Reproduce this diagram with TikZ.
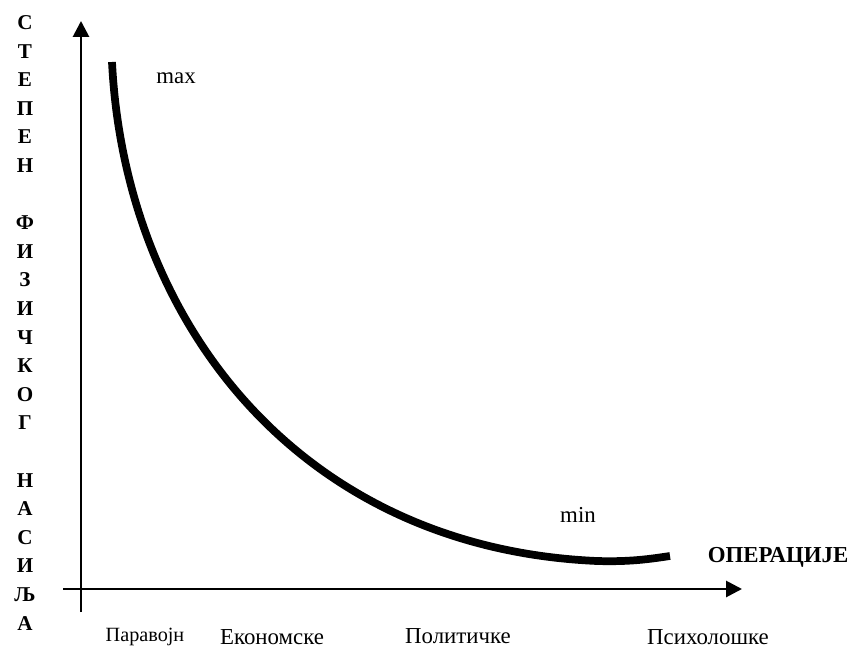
\documentclass[tikz,border=0pt]{standalone}
\usepackage{fontspec}
\setmainfont{Liberation Serif}
\usetikzlibrary{arrows.meta}
\tikzset{
  osa/.style={line width=1.6pt, -{Triangle[length=9pt,width=9pt]}},
  kriva/.style={line width=4.4pt},
  tekst/.style={font=\fontsize{13}{15}\selectfont},
  sitno/.style={font=\fontsize{11.5}{13}\selectfont},
  slovo/.style={font=\fontsize{12}{14}\selectfont\bfseries, anchor=base}
}
\begin{document}
\begin{tikzpicture}
     \useasboundingbox (0,0) rectangle (17.18,12.96);
     % axes
     \coordinate (ydole) at (1.62,0.72);
     \coordinate (ygore) at (1.62,12.54);
     \coordinate (xlevo) at (1.26,1.18);
     \coordinate (xdesno) at (14.84,1.18);
     \draw[osa] (ydole)--(ygore);
     \draw[osa] (xlevo)--(xdesno);
     % curve
     \coordinate (vrh) at (2.24,11.72);
     \coordinate (dno) at (11.94,1.74);
     \coordinate (kraj) at (13.40,1.84);
     \draw[kriva] (vrh) .. controls (2.5,6.5) and (6.0,2.0) .. (dno)
                        .. controls (12.6,1.72) and (13.0,1.78) .. (kraj);
     \node[tekst] (max) at (3.52,11.40) {max};
     \node[tekst] (min) at (11.56,2.66) {min};
     \node[tekst, font=\fontsize{13}{15}\selectfont\bfseries] (operacije) at (15.56,1.82) {ОПЕРАЦИЈЕ};
     % x labels
     \node[sitno, anchor=base] (paravojne) at (2.90,0.14) {Паравојн};
     \node[tekst, anchor=base] (ekonomske) at (5.44,0.08) {Економске};
     \node[tekst, anchor=base] (politicke) at (9.16,0.10) {Политичке};
     \node[tekst, anchor=base] (psiholoske) at (14.16,0.08) {Психолошке};
     % y label
     \foreach \s/\red in {С/0,Т/1,Е/2,П/3,Е/4,Н/5,Ф/7,И/8,З/9,И/10,Ч/11,К/12,О/13,Г/14,Н/16,А/17,С/18,И/19,Љ/20,А/21}
        \node[slovo] (s\red) at (0.50,12.37-0.572*\red) {\s};
\end{tikzpicture}
\end{document}
